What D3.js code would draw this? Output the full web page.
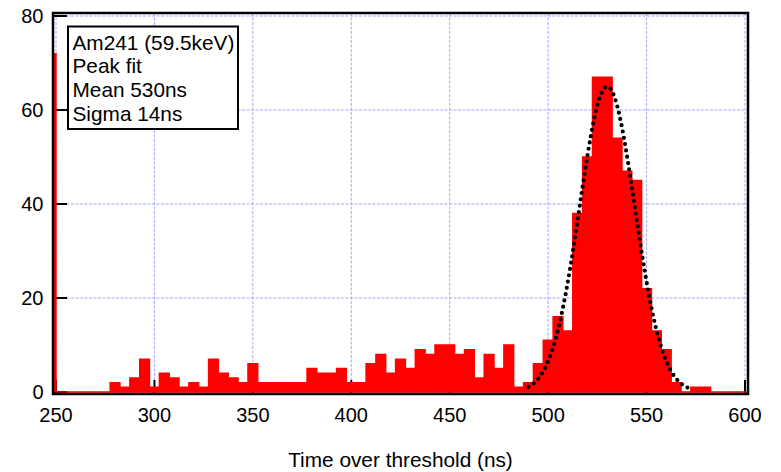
<!DOCTYPE html>
<html>
<head>
<meta charset="utf-8">
<script src="https://cdn.jsdelivr.net/npm/d3@7"></script>
<style>
  html, body { margin: 0; padding: 0; background: #fff; }
  svg { display: block; font-family: "Liberation Sans", Arial, sans-serif; }
</style>
</head>
<body>
<svg id="chart" width="781" height="472"></svg>
<script>
// Time-over-threshold histogram, 5 ns bins (bin centres in ns)
const binCenters = [
  250, 255, 260, 265, 270, 275, 280, 285, 290, 295,
  300, 305, 310, 315, 320, 325, 330, 335, 340, 345,
  350, 355, 360, 365, 370, 375, 380, 385, 390, 395,
  400, 405, 410, 415, 420, 425, 430, 435, 440, 445,
  450, 455, 460, 465, 470, 475, 480, 485, 490, 495,
  500, 505, 510, 515, 520, 525, 530, 535, 540, 545,
  550, 555, 560, 565, 570, 575, 580, 585, 590, 595,
  600
];
const binCounts = [
  0, 0, 0, 0, 0, 0, 2, 1, 3, 7,
  1, 4, 3, 1, 2, 1, 7, 4, 3, 2,
  6, 2, 2, 2, 2, 2, 5, 4, 4, 5,
  2, 2, 6, 8, 4, 7, 5, 9, 8, 10,
  10, 8, 9, 3, 8, 5, 10, 1, 2, 6,
  11, 16, 13, 38, 50, 67, 67, 54, 47, 45,
  22, 13, 9, 2, 0, 1, 1, 0, 0, 0,
  0
];
const binWidth = 5;
// entries below the 250 ns range, piled up at the left edge
const underflowCount = [72];

// Gaussian peak fit
const fitMean = 530;
const fitSigma = 14;
const fitAmplitude = 65;
const fitRange = [490, 572];

const xTicks = [250, 300, 350, 400, 450, 500, 550, 600];
const yTicks = [0, 20, 40, 60, 80];
const legendLines = ["Am241 (59.5keV)", "Peak fit", "Mean 530ns", "Sigma 14ns"];
const xTitle = "Time over threshold (ns)";

const svg = d3.select("#chart");
const pad = 3; // gap between frame and data range

const x = d3.scaleLinear().domain([250, 600]).range([56, 745]);
const y = d3.scaleLinear().domain([0, 80]).range([392, 16]);

const fL = x.range()[0] - pad, fR = x.range()[1] + pad;
const fT = y.range()[1] - pad, fB = y.range()[0] + 2;

// grid
const grid = svg.append("g").attr("stroke", "#a6a6ff").attr("stroke-width", 1)
  .attr("stroke-dasharray", "3,1.5").attr("fill", "none");
grid.selectAll(".gx").data(xTicks).join("line")
  .attr("x1", d => x(d)).attr("x2", d => x(d)).attr("y1", fT).attr("y2", fB);
grid.selectAll(".gy").data(yTicks).join("line")
  .attr("y1", d => y(d)).attr("y2", d => y(d)).attr("x1", fL).attr("x2", fR);

// inner ticks
const tickLen = 14;
const ticks = svg.append("g").attr("stroke", "#000").attr("stroke-width", 2);
ticks.selectAll(".tx").data(xTicks).join("line")
  .attr("x1", d => x(d)).attr("x2", d => x(d)).attr("y1", fB).attr("y2", fB - tickLen);
ticks.selectAll(".ty").data(yTicks).join("line")
  .attr("y1", d => y(d)).attr("y2", d => y(d)).attr("x1", fL).attr("x2", fL + tickLen);

// histogram outline as a step path
const xMin = x.domain()[0], xMax = x.domain()[1];
const pts = [];
const spikeLeft = x(xMin) - pad;
pts.push([spikeLeft, y(0)], [spikeLeft, y(underflowCount[0])], [x(xMin), y(underflowCount[0])], [x(xMin), y(0)]);
binCenters.forEach((c, i) => {
  const a = Math.max(xMin, c - binWidth / 2);
  const b = Math.min(c + binWidth / 2, xMax + pad / (x(1) - x(0)));
  pts.push([x(a), y(binCounts[i])], [x(b), y(binCounts[i])]);
});
pts.push([pts[pts.length - 1][0], y(0)]);
svg.append("path")
  .attr("d", "M" + pts.map(p => p.join(",")).join("L") + "Z")
  .attr("fill", "#ff0000").attr("stroke", "#ff0000").attr("stroke-width", 1.4)
  .attr("stroke-linejoin", "miter");

// fit curve
const fitPts = [];
for (let t = fitRange[0]; t <= fitRange[1]; t += 0.5) {
  fitPts.push([t, fitAmplitude * Math.exp(-((t - fitMean) ** 2) / (2 * fitSigma * fitSigma))]);
}
svg.append("path")
  .attr("d", d3.line().x(d => x(d[0])).y(d => y(d[1])).curve(d3.curveLinear)(fitPts))
  .attr("fill", "none").attr("stroke", "#000").attr("stroke-width", 4.2)
  .attr("stroke-linecap", "round").attr("stroke-dasharray", "0,6.4");

// frame
svg.append("rect").attr("x", fL).attr("y", fT).attr("width", fR - fL).attr("height", fB - fT)
  .attr("fill", "none").attr("stroke", "#000").attr("stroke-width", 2.5);

// tick labels
svg.append("g").selectAll("text").data(xTicks).join("text")
  .attr("x", d => x(d)).attr("y", 421.5).attr("text-anchor", "middle")
  .attr("font-size", 20).text(d => d);
svg.append("g").selectAll("text").data(yTicks).join("text")
  .attr("x", 43.5).attr("y", d => y(d) + 6.8).attr("text-anchor", "end")
  .attr("font-size", 20).text(d => d);

// axis title
svg.append("text").attr("x", (fL + fR) / 2).attr("y", 466.5).attr("text-anchor", "middle")
  .attr("font-size", 20.8).text(xTitle);

// legend box
const lg = svg.append("g");
lg.append("rect").attr("x", 68).attr("y", 26.5).attr("width", 170).attr("height", 102.5)
  .attr("fill", "#fff").attr("stroke", "#000").attr("stroke-width", 2);
lg.selectAll("text").data(legendLines).join("text")
  .attr("x", 72.5).attr("y", (d, i) => 49.5 + i * 23.8)
  .attr("font-size", 20.8).text(d => d);
</script>
</body>
</html>
